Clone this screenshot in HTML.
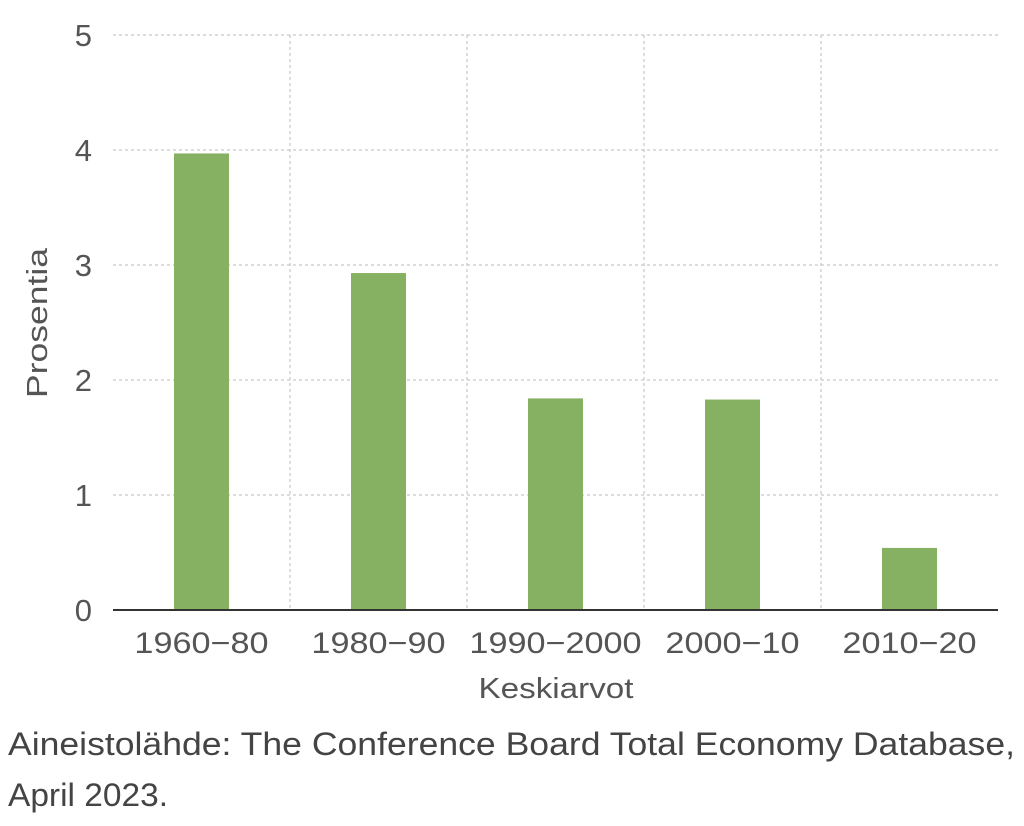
<!DOCTYPE html>
<html><head><meta charset="utf-8"><style>
html,body{margin:0;padding:0;background:#fff;}
body{width:1024px;height:821px;overflow:hidden;font-family:"Liberation Sans",sans-serif;}
</style></head><body>
<svg id="chart" width="1024" height="821" viewBox="0 0 1024 821" xmlns="http://www.w3.org/2000/svg" font-family="Liberation Sans, sans-serif">
<g id="grid"></g>
<g id="bars"></g>
<g id="ylabels"></g>
<g id="xlabels"></g>
<line x1="113" y1="610" x2="998" y2="610" stroke="#333" stroke-width="2"/>
<text transform="translate(47,323) rotate(-90)" text-anchor="middle" font-size="29" fill="#555" textLength="150" lengthAdjust="spacingAndGlyphs">Prosentia</text>
<text x="556" y="698" text-anchor="middle" font-size="29" fill="#555" textLength="155" lengthAdjust="spacingAndGlyphs">Keskiarvot</text>
<text font-size="32" fill="#444"><tspan x="8" y="755" textLength="1007" lengthAdjust="spacingAndGlyphs">Aineistolähde: The Conference Board Total Economy Database,</tspan><tspan x="8" y="806" textLength="160" lengthAdjust="spacingAndGlyphs">April 2023.</tspan></text>
</svg>
<script>
const categories = ["1960−80","1980−90","1990−2000","2000−10","2010−20"];
const values = [3.97, 2.93, 1.84, 1.83, 0.54];
const yTicks = [0,1,2,3,4,5];
const NS="http://www.w3.org/2000/svg";
const x0=113,x1=998,y0=610,y1=35,yMax=5;
const bw=(x1-x0)/categories.length;
function yScale(v){return y0-(v/yMax)*(y0-y1);}
function xCenter(i){return x0+bw*(i+0.5);}
function mk(tag,attrs,parent){const e=document.createElementNS(NS,tag);for(const k in attrs)e.setAttribute(k,attrs[k]);parent.appendChild(e);return e;}
const grid=document.getElementById('grid');
yTicks.forEach(t=>{
  if(t===0)return;
  const l=mk('line',{x1:x0,x2:x1,y1:yScale(t),y2:yScale(t),stroke:'#bbb','stroke-width':1,'stroke-dasharray':'3,3'},grid);
  
  
});
for(let i=1;i<categories.length;i++){
  const x=x0+bw*i;
  const l=mk('line',{x1:x,x2:x,y1:y1,y2:y0,stroke:'#bbb','stroke-width':1,'stroke-dasharray':'3,3'},grid);
  
  
}
const bars=document.getElementById('bars');
values.forEach((v,i)=>{
  const r=mk('rect',{x:xCenter(i)-27.5,width:55,y:yScale(v),height:y0-yScale(v),fill:'#87b162'},bars);
  
  
});
const yl=document.getElementById('ylabels');
yTicks.forEach(t=>{
  const e=mk('text',{x:92,y:yScale(t)+11,'text-anchor':'end','font-size':31,fill:'#555'},yl);
  e.textContent=t;
  
  
});
const xl=document.getElementById('xlabels');
categories.forEach((c,i)=>{
  const e=mk('text',{x:xCenter(i),y:653,'text-anchor':'middle','font-size':30,fill:'#555'},xl);
  e.textContent=c;
  
  
  const w=e.getComputedTextLength();
  e.setAttribute('textLength',w*1.14);
  e.setAttribute('lengthAdjust','spacingAndGlyphs');
});
</script>
</body></html>
